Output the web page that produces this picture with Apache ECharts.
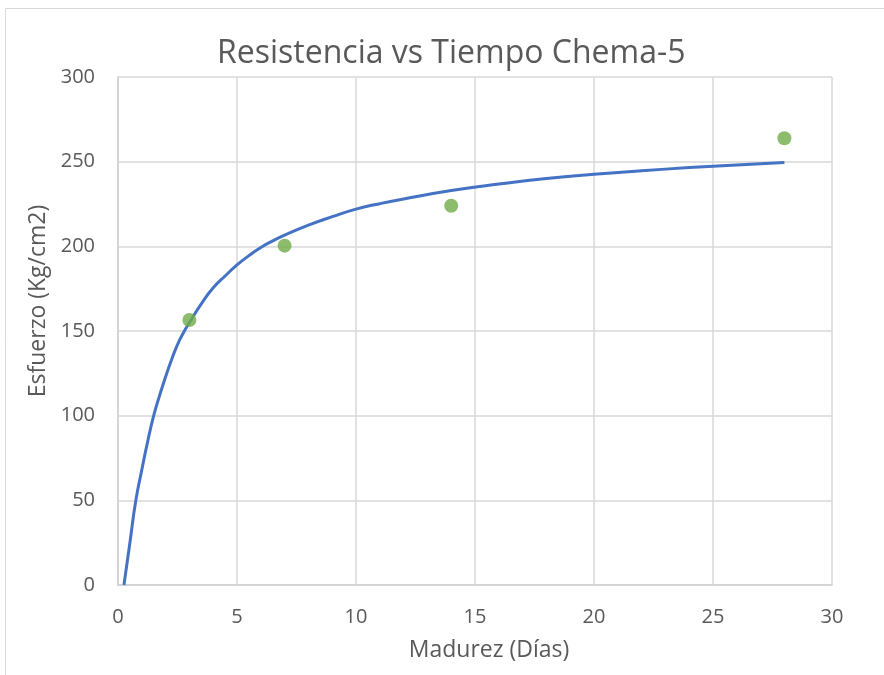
<!DOCTYPE html>
<html><head><meta charset="utf-8">
<script src="https://cdn.jsdelivr.net/npm/echarts@6/dist/echarts.min.js"></script>
<style>html,body{margin:0;padding:0;background:#fff;}#c{width:884px;height:675px;}</style>
</head><body><div id="c"></div>
<script>
const titleText = 'Resistencia vs Tiempo Chema-5';
const xName = 'Madurez (Días)';
const yName = 'Esfuerzo (Kg/cm2)';
const pointX = [3, 7, 14, 28];
const pointY = [156.5, 200.4, 224, 263.8];
const curveX = [0.25, 0.5, 0.75, 1, 1.25, 1.5, 1.75, 2, 2.25, 2.5, 2.75, 3, 3.5, 4, 4.5, 5, 5.5, 6, 6.5, 7, 8, 9, 10, 11, 12, 14, 16, 18, 20, 22, 24, 26, 28];
const curveY = [0, 25, 50, 68, 85, 100, 112, 123, 133, 142, 149, 155, 166, 175.5, 182.5, 189, 194.5, 199.3, 203.2, 206.6, 212.5, 217.5, 222, 225.2, 228, 233, 236.8, 240, 242.5, 244.6, 246.5, 248.1, 249.5];

const chart = echarts.init(document.getElementById('c'));
const font = 'Open Sans';
chart.setOption({
  animation: false,
  backgroundColor: '#fff',
  graphic: [{type:'rect', shape:{x:5.5, y:8.5, width:900, height:700}, style:{fill:'none', stroke:'#d9d9d9', lineWidth:1}}],
  title: {text: titleText, left: 212, top: 33, textStyle:{fontFamily: font, fontSize: 32, fontWeight:'normal', color:'#595959'}},
  grid: {left: 118, right: 52, top: 77, bottom: 90},
  xAxis: {type:'value', min:0, max:30, interval:5,
    name: xName, nameLocation:'middle', nameGap: 54,
    nameTextStyle:{fontFamily: font, fontSize: 23, color:'#595959', padding:[0,0,0,28]},
    axisLine:{show:true, lineStyle:{color:'#d0d0d0', width:1.5}},
    axisTick:{show:false},
    axisLabel:{fontFamily: font, fontSize: 20, color:'#595959', margin: 22},
    splitLine:{show:true, lineStyle:{color:'#d9d9d9', width:1.5}}},
  yAxis: {type:'value', min:0, max:300, interval:50,
    name: yName, nameLocation:'middle', nameGap: 62,
    nameTextStyle:{fontFamily: font, fontSize: 23, color:'#595959', padding:[0,0,0,60]},
    axisLine:{show:true, lineStyle:{color:'#d0d0d0', width:1.5}},
    axisTick:{show:false},
    axisLabel:{fontFamily: font, fontSize: 20, color:'#595959', margin: 23},
    splitLine:{show:true, lineStyle:{color:'#d9d9d9', width:1.5}}},
  series: [
    {type:'line', data: curveX.map((x,i)=>[x, curveY[i]]), smooth: true, showSymbol:false,
     lineStyle:{color:'#4472c4', width:3}, z:2},
    {type:'scatter', data: pointX.map((x,i)=>[x, pointY[i]]), symbolSize: 14,
     itemStyle:{color:'#70ad47'}, z:3}
  ]
});
</script></body></html>
